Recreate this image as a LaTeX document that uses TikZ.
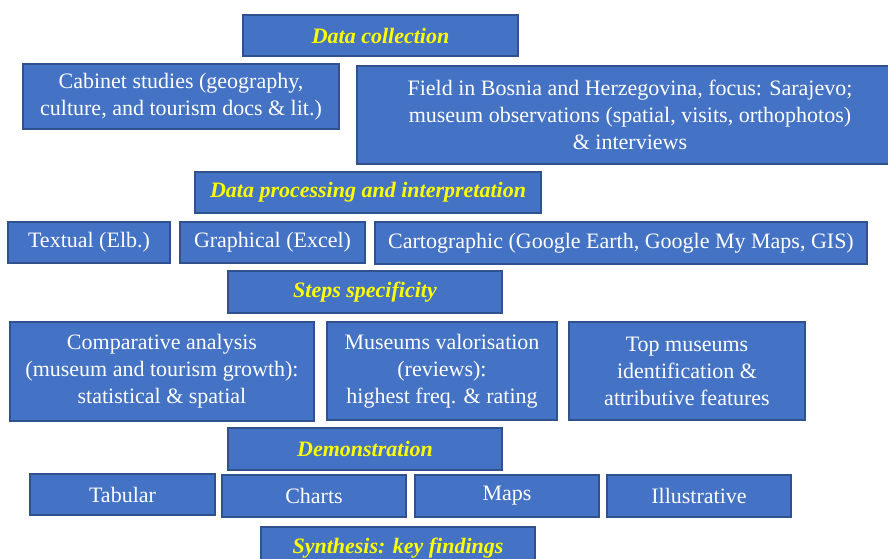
\documentclass[tikz,border=0pt]{standalone}
\usepackage{fontspec}
\setmainfont{Liberation Serif}
\usepackage{tikz}
\usetikzlibrary{positioning}
\definecolor{boxblue}{HTML}{4472C4}
\definecolor{boxline}{HTML}{2F528F}
\definecolor{headyellow}{HTML}{FFFF00}

\begin{document}
\begin{tikzpicture}[x=0.75pt, y=-0.75pt,
  box node/.style={rectangle,draw=boxline,fill=boxblue,line width=0.9pt,
    inner sep=0pt,outer sep=0pt,align=center,text=white,
    font=\fontsize{16.5}{20.25}\selectfont},
  head node/.style={box node,text=headyellow,
    font=\fontsize{16.5}{20.25}\selectfont\bfseries\itshape}]

\useasboundingbox (0,0) rectangle (888,558);

% data collection
\node[head node, minimum width=206.25pt, minimum height=30.75pt] (dc) at (380.5,35.5) {Data collection};
\node[box node, minimum width=237pt, minimum height=48.75pt] (cab) at (181,96.5)
  {Cabinet studies (geography,\\culture, and tourism docs \& lit.)};
\node[box node, minimum width=409.5pt, minimum height=73.5pt] (field) at (630,115)
  {Field in Bosnia and Herzegovina, focus: Sarajevo;\\museum observations (spatial, visits, orthophotos)\\\& interviews};

% processing
\node[head node, minimum width=259.5pt, minimum height=30.75pt] (dp) at (368,192.5) {Data processing and interpretation};
\node[box node, minimum width=121.5pt, minimum height=30.75pt] (txt) at (89,242.5) {Textual (Elb.)};
\node[box node, minimum width=138.75pt, minimum height=30.75pt] (gra) at (272.5,242.5) {Graphical (Excel)};
\node[box node, minimum width=369pt, minimum height=31.5pt] (car) at (621,243)
  {Cartographic (Google Earth, Google My Maps, GIS)};

% steps
\node[head node, minimum width=205.5pt, minimum height=31.5pt] (ss) at (365,292) {Steps specificity};
\node[box node, minimum width=228pt, minimum height=74.25pt] (cmp) at (162,371.5)
  {Comparative analysis\\(museum and tourism growth):\\statistical \& spatial};
\node[box node, minimum width=172.5pt, minimum height=73.5pt] (val) at (442,371)
  {Museums valorisation\\(reviews):\\highest freq. \& rating};
\node[box node, minimum width=177pt, minimum height=73.5pt] (top) at (687,371)
  {Top museums\\identification \&\\attributive features};

% demonstration
\node[head node, minimum width=205.5pt, minimum height=31.5pt] (dem) at (365,449) {Demonstration};
\node[box node, minimum width=138.75pt, minimum height=30.75pt] (tab) at (122.5,494.5) {Tabular};
\node[box node, minimum width=138pt, minimum height=31.5pt] (cha) at (314,496) {Charts};
\node[box node, minimum width=138pt, minimum height=31.5pt] (map) at (507,496) {Maps};
\node[box node, minimum width=138pt, minimum height=31.5pt] (ill) at (699,496) {Illustrative};

% synthesis
\node[head node, minimum width=205.5pt, minimum height=31.5pt] (syn) at (398,548) {Synthesis: key findings};

\end{tikzpicture}
\end{document}
